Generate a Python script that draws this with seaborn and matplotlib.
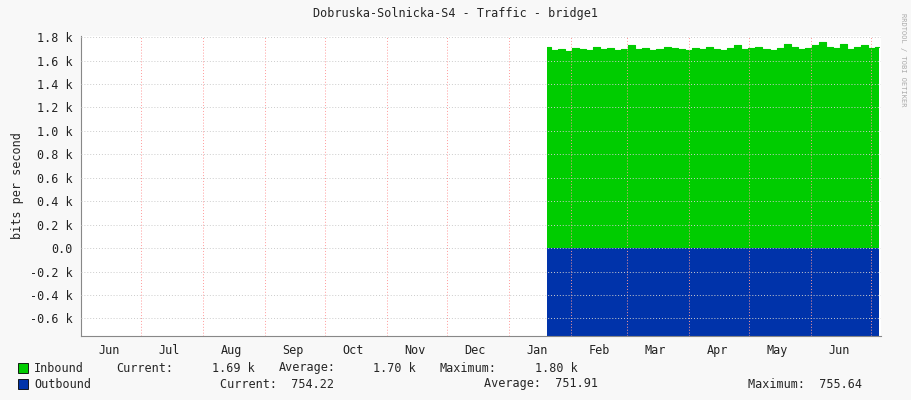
import numpy as np
import pandas as pd
import seaborn as sns
import matplotlib.pyplot as plt
import matplotlib.dates as mdates
from matplotlib.ticker import FixedLocator, FuncFormatter

# inbound / outbound traffic (bits per second), sampled every ~3.5 days
sample_dates = pd.date_range("2021-01-20", "2021-07-05", periods=48)
inbound = [1720, 1690, 1700, 1680, 1710, 1700, 1690, 1720, 1700, 1710,
           1690, 1700, 1730, 1700, 1710, 1690, 1700, 1720, 1710, 1700,
           1690, 1710, 1700, 1720, 1700, 1690, 1710, 1730, 1700, 1710,
           1720, 1700, 1690, 1710, 1740, 1720, 1700, 1710, 1730, 1760,
           1720, 1710, 1740, 1700, 1720, 1730, 1710, 1720]
outbound = [754.0, 752.1, 751.5, 751.9, 752.3, 751.0, 750.8, 751.7, 752.0, 751.4,
            751.9, 752.5, 751.2, 751.8, 752.0, 751.6, 751.9, 752.2, 751.3, 751.7,
            752.0, 751.5, 751.8, 752.1, 751.6, 751.9, 752.3, 751.4, 751.8, 752.0,
            751.7, 751.9, 752.2, 751.5, 751.8, 752.0, 751.6, 751.9, 755.6, 751.8,
            752.0, 751.7, 751.9, 752.1, 751.6, 751.8, 752.0, 754.2]
y_ticks = [-600, -400, -200, 0, 200, 400, 600, 800, 1000, 1200, 1400, 1600, 1800]

df = pd.DataFrame({"date": sample_dates, "in": inbound, "out": outbound})

sns.set_style("white")
plt.rcParams['font.family'] = ['DejaVu Sans Mono']
fig = plt.figure(figsize=(9.11, 4.0), dpi=100, facecolor="#F8F8F8")
ax = fig.add_axes([81 / 911, 1 - 336 / 400, 800 / 911, 300 / 400])
ax.set_facecolor("white")

green, blue = "#00CC00", "#0033AA"
ax.fill_between(df["date"], 0, df["in"], color=green, lw=0, step="mid")
ax.fill_between(df["date"], 0, -df["out"], color=blue, lw=0, step="mid")
sns.lineplot(data=df, x="date", y="in", ax=ax, color=green, lw=0.8, drawstyle="steps-mid")

ax.set_xlim(pd.Timestamp("2020-06-01"), pd.Timestamp("2021-07-06"))
ax.set_ylim(-750, 1810)

months = pd.date_range("2020-06-01", "2021-07-01", freq="MS")
for m in months[1:]:
    ax.axvline(m, color="#FF9999", lw=0.7, ls=(0, (1, 2)), zorder=3)
for t in y_ticks:
    ax.axhline(t, color="#CCCCCC", lw=0.7, ls=(0, (1, 2)), zorder=3)

mids = [m + pd.Timedelta(days=14) for m in months]
ax.xaxis.set_major_locator(FixedLocator(mdates.date2num(mids)))
ax.xaxis.set_major_formatter(mdates.DateFormatter("%b"))
ax.yaxis.set_major_locator(FixedLocator(y_ticks))
ax.yaxis.set_major_formatter(FuncFormatter(lambda v, p: "0.0" if v == 0 else f"{v/1000:.1f} k"))
ax.tick_params(labelsize=8.5, length=0, pad=6, colors="#222222")
for s in ax.spines.values():
    s.set_visible(False)
ax.spines["left"].set_visible(True)
ax.spines["bottom"].set_visible(True)
ax.spines["left"].set_color("#888888")
ax.spines["bottom"].set_color("#888888")
ax.set_xlabel("")
ax.set_ylabel("bits per second", fontsize=8.5)

fig.text(0.5, 1 - 14 / 400, "Dobruska-Solnicka-S4 - Traffic - bridge1", ha="center", va="center", fontsize=8.5)
fig.text(903 / 911, 1 - 60 / 400, "RRDTOOL / TOBI OETIKER", rotation=270, ha="center", va="center",
         fontsize=5, color="#AAAAAA")

def t(x, y, s):
    fig.text(x / 911, 1 - y / 400, s, ha="left", va="center", fontsize=8.5)

fig.patches.append(plt.Rectangle((18 / 911, 1 - 373 / 400), 10 / 911, 10 / 400, transform=fig.transFigure,
                                 facecolor=green, edgecolor="black", lw=0.6))
fig.patches.append(plt.Rectangle((18 / 911, 1 - 389 / 400), 10 / 911, 10 / 400, transform=fig.transFigure,
                                 facecolor=blue, edgecolor="black", lw=0.6))
t(34, 368, "Inbound"); t(116, 368, "Current:"); t(212, 368, "1.69 k")
t(279, 368, "Average:"); t(373, 368, "1.70 k"); t(440, 368, "Maximum:"); t(535, 368, "1.80 k")
t(34, 384, "Outbound"); t(220, 384, "Current:  754.22")
t(484, 384, "Average:  751.91"); t(748, 384, "Maximum:  755.64")

fig.savefig("out.png", dpi=100, facecolor=fig.get_facecolor())
